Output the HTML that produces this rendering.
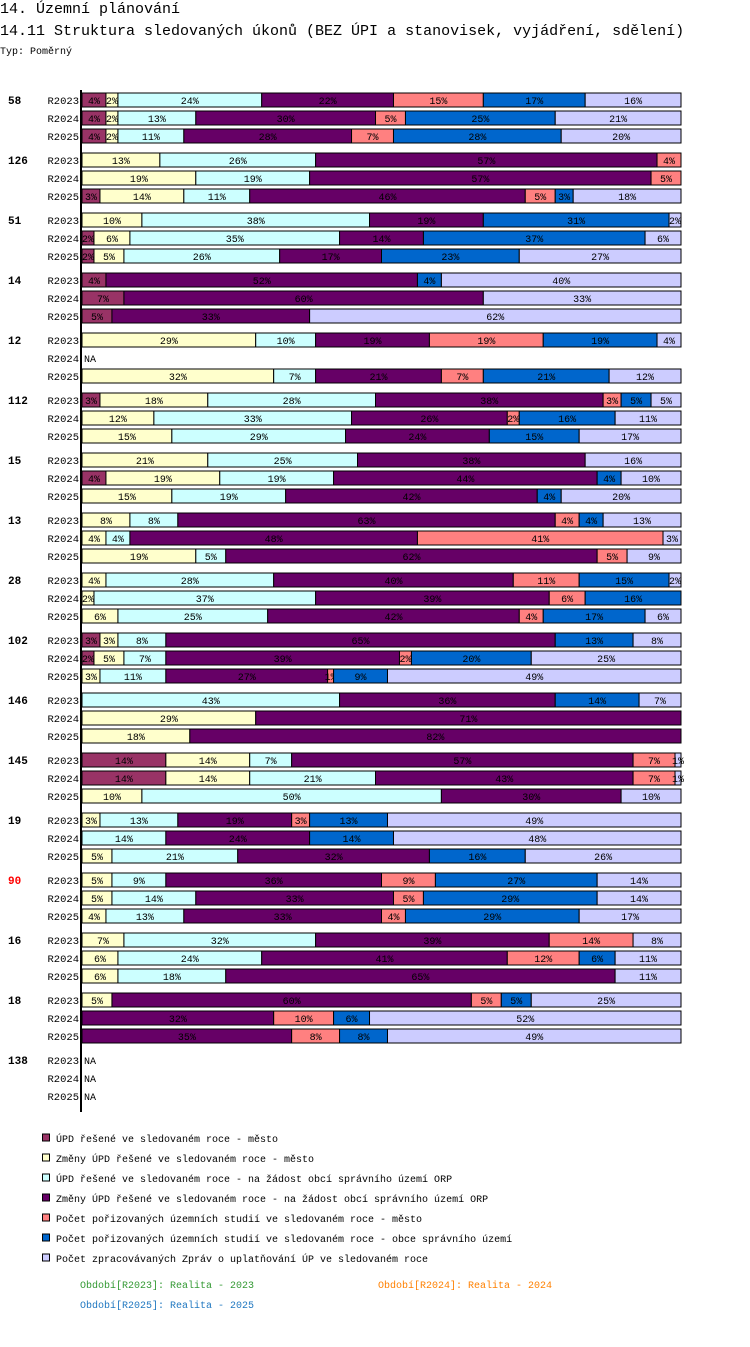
<!DOCTYPE html>
<html><head><meta charset="utf-8">
<style>
body{margin:0;background:#fff;width:750px;height:1342px;overflow:hidden;font-family:"Liberation Mono",monospace;}
svg text{font-family:"Liberation Mono",monospace;}
</style></head>
<body>
<svg id="chart" width="750" height="1342" xmlns="http://www.w3.org/2000/svg">
<text x="0" y="13" font-size="15">14. Územní plánování</text>
<text x="0" y="35" font-size="15">14.11 Struktura sledovaných úkonů (BEZ ÚPI a stanovisek, vyjádření, sdělení)</text>
<text x="0" y="54" font-size="10">Typ: Poměrný</text>
<g id="bars"></g>
<rect x="80" y="90" width="2" height="1022" fill="#000"/>
<g id="legend"></g>
<text x="80" y="1288" font-size="10" fill="#339933">Období[R2023]: Realita - 2023</text>
<text x="378" y="1288" font-size="10" fill="#ff8000">Období[R2024]: Realita - 2024</text>
<text x="80" y="1308" font-size="10" fill="#1f77c0">Období[R2025]: Realita - 2025</text>
</svg>
<script>
const groups=["58","126","51","14","12","112","15","13","28","102","146","145","19","90","16","18","138"];
const periods=["R2023","R2024","R2025"];
const seriesNames=["ÚPD řešené ve sledovaném roce - město","Změny ÚPD řešené ve sledovaném roce - město","ÚPD řešené ve sledovaném roce - na žádost obcí správního území ORP","Změny ÚPD řešené ve sledovaném roce - na žádost obcí správního území ORP","Počet pořizovaných územních studií ve sledovaném roce - město","Počet pořizovaných územních studií ve sledovaném roce - obce správního území","Počet zpracovávaných Zpráv o uplatňování ÚP ve sledovaném roce"];
const colors=["#993366","#ffffcc","#ccffff","#660066","#ff8080","#0066cc","#ccccff"];
const values=[
[[4,2,24,22,15,17,16],[4,2,13,30,5,25,21],[4,2,11,28,7,28,20]],
[[0,13,26,57,4,0,0],[0,19,19,57,5,0,0],[3,14,11,46,5,3,18]],
[[0,10,38,19,0,31,2],[2,6,35,14,0,37,6],[2,5,26,17,0,23,27]],
[[4,0,0,52,0,4,40],[7,0,0,60,0,0,33],[5,0,0,33,0,0,62]],
[[0,29,10,19,19,19,4],null,[0,32,7,21,7,21,12]],
[[3,18,28,38,3,5,5],[0,12,33,26,2,16,11],[0,15,29,24,0,15,17]],
[[0,21,25,38,0,0,16],[4,19,19,44,0,4,10],[0,15,19,42,0,4,20]],
[[0,8,8,63,4,4,13],[0,4,4,48,41,0,3],[0,19,5,62,5,0,9]],
[[0,4,28,40,11,15,2],[0,2,37,39,6,16,0],[0,6,25,42,4,17,6]],
[[3,3,8,65,0,13,8],[2,5,7,39,2,20,25],[0,3,11,27,1,9,49]],
[[0,0,43,36,0,14,7],[0,29,0,71,0,0,0],[0,18,0,82,0,0,0]],
[[14,14,7,57,7,0,1],[14,14,21,43,7,0,1],[0,10,50,30,0,0,10]],
[[0,3,13,19,3,13,49],[0,0,14,24,0,14,48],[0,5,21,32,0,16,26]],
[[0,5,9,36,9,27,14],[0,5,14,33,5,29,14],[0,4,13,33,4,29,17]],
[[0,7,32,39,14,0,8],[0,6,24,41,12,6,11],[0,6,18,65,0,0,11]],
[[0,5,0,60,5,5,25],[0,0,0,32,10,6,52],[0,0,0,35,8,8,49]],
[null,null,null]
];
const NS="http://www.w3.org/2000/svg";
const X0=82,W=599;
function xs(frac){return X0+frac*W;}
function yc(g,r){return 100+60*g+18*r;}
function mk(tag,attrs,parent){const e=document.createElementNS(NS,tag);for(const k in attrs)e.setAttribute(k,attrs[k]);parent.appendChild(e);return e;}
const bars=document.getElementById('bars');
groups.forEach((gname,g)=>{
  const gl=mk('text',{x:8,y:yc(g,0)+4,'font-size':11,'font-weight':'bold',fill:gname==="90"?"#ff0000":"#000"},bars);
  
  
  gl.textContent=gname;
  periods.forEach((p,r)=>{
    const y=yc(g,r);
    const pl=mk('text',{x:79,y:y+4,'font-size':10.5,'text-anchor':'end'},bars);
    
    
    pl.textContent=p;
    const v=values[g][r];
    if(!v){const na=mk('text',{x:84,y:y+4,'font-size':10},bars);
      
      
      na.textContent="NA";return;}
    const tot=v.reduce((a,b)=>a+b,0);let cum=0;
    v.forEach((val,s)=>{
      if(!val)return;
      const x1=xs(cum/tot),x2=xs((cum+val)/tot);cum+=val;
      const rc=mk('rect',{x:x1,y:y-7,width:x2-x1,height:14,fill:colors[s],stroke:"#000","stroke-width":1},bars);
      
      
      const t=mk('text',{x:(x1+x2)/2,y:y+4,'font-size':10,'text-anchor':'middle'},bars);
      
      
      t.textContent=val+"%";
    });
  });
});
const lg=document.getElementById('legend');
seriesNames.forEach((n,i)=>{
  const y=1139+20*i;
  const sq=mk('rect',{x:42.5,y:y-5,width:7,height:7,fill:colors[i],stroke:"#000","stroke-width":1},lg);
  
  
  const t=mk('text',{x:56,y:y+3,'font-size':10},lg);
  
  
  t.textContent=n;
});
</script>
</body></html>
